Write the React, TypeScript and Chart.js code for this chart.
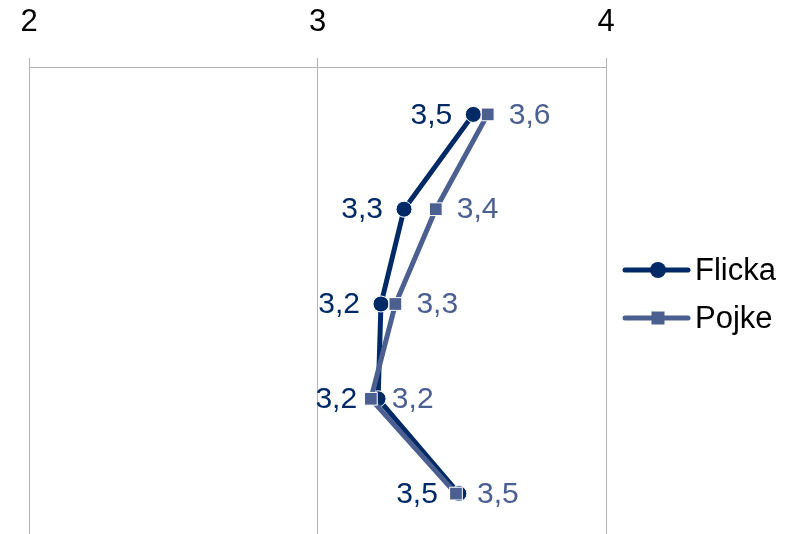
import React, { useEffect, useRef } from "react";
import { Chart, registerables } from "chart.js";

Chart.register(...registerables);

const categories = ["1", "2", "3", "4", "5"];
const flicka = [3.54, 3.3, 3.22, 3.21, 3.49];
const pojke = [3.59, 3.41, 3.27, 3.185, 3.48];
const seriesNames = ["Flicka", "Pojke"];
const colors = ["#002a66", "#4b5f91"];
const FONT = "'Liberation Sans', Arial, sans-serif";

const fmt = (v: number) => v.toFixed(1).replace(".", ",");

const labelPlugin = {
  id: "valueLabels",
  afterDatasetsDraw(chart: any) {
    const ctx = chart.ctx;
    ctx.save();
    ctx.font = `30px ${FONT}`;
    ctx.textBaseline = "middle";
    chart.data.datasets.forEach((ds: any, i: number) => {
      const meta = chart.getDatasetMeta(i);
      meta.data.forEach((pt: any, j: number) => {
        ctx.fillStyle = colors[i];
        if (i === 0) {
          ctx.textAlign = "right";
          ctx.fillText(fmt(ds.data[j]), pt.x - 21, pt.y + 1);
        } else {
          ctx.textAlign = "left";
          ctx.fillText(fmt(ds.data[j]), pt.x + 21, pt.y + 1);
        }
      });
    });
    ctx.restore();
  },
};

const legendPlugin = {
  id: "customLegend",
  afterDraw(chart: any) {
    const ctx = chart.ctx;
    const x0 = chart.chartArea.right + 19;
    const rows = [270, 318];
    ctx.save();
    seriesNames.forEach((name, i) => {
      const y = rows[i];
      ctx.strokeStyle = colors[i];
      ctx.lineWidth = 5;
      ctx.lineCap = "round";
      ctx.beginPath();
      ctx.moveTo(x0, y);
      ctx.lineTo(x0 + 63, y);
      ctx.stroke();
      ctx.fillStyle = colors[i];
      const cx = x0 + 33;
      if (i === 0) {
        ctx.beginPath();
        ctx.arc(cx, y, 8, 0, Math.PI * 2);
        ctx.fill();
      } else {
        ctx.fillRect(cx - 6.5, y - 6.5, 13, 13);
      }
      ctx.fillStyle = "#000";
      ctx.font = `31px ${FONT}`;
      ctx.textAlign = "left";
      ctx.textBaseline = "middle";
      ctx.fillText(name, x0 + 70, y + 1);
    });
    ctx.restore();
  },
};

export default function App() {
  const ref = useRef<HTMLCanvasElement>(null);
  useEffect(() => {
    if (!ref.current) return;
    const chart = new Chart(ref.current, {
      type: "line",
      data: {
        labels: categories,
        datasets: [
          {
            label: seriesNames[0],
            data: flicka,
            borderColor: colors[0],
            backgroundColor: colors[0],
            borderWidth: 5,
            pointStyle: "circle",
            pointRadius: 8,
            pointBackgroundColor: colors[0],
            pointBorderColor: "#ffffff",
            pointBorderWidth: 1,
            order: 2,
          },
          {
            label: seriesNames[1],
            data: pojke,
            borderColor: colors[1],
            backgroundColor: colors[1],
            borderWidth: 5,
            pointStyle: "rect",
            pointRadius: 9,
            pointBackgroundColor: colors[1],
            pointBorderColor: "#ffffff",
            pointBorderWidth: 1,
            order: 1,
          },
        ],
      },
      options: {
        indexAxis: "y",
        animation: false,
        responsive: false,
        layout: { padding: { left: 29, right: 183, top: 0, bottom: 3 } },
        plugins: { legend: { display: false }, tooltip: { enabled: false } },
        scales: {
          x: {
            type: "linear",
            position: "top",
            min: 2,
            max: 4,
            ticks: {
              stepSize: 1,
              color: "#000",
              padding: 17,
              font: { size: 31, family: FONT },
            },
            grid: { color: "#b3b3b3", tickLength: 9, lineWidth: 1 },
            border: { color: "#b3b3b3", width: 1 },
            afterFit: (s: any) => {
              s.height = 67;
            },
          },
          y: {
            type: "category",
            display: false,
            offset: true,
          },
        },
      } as any,
      plugins: [labelPlugin, legendPlugin],
    });
    return () => chart.destroy();
  }, []);
  return (
    <div style={{ position: "fixed", left: 0, top: 0, width: 789, height: 551 }}>
      <canvas ref={ref} width={789} height={551} style={{ display: "block" }} />
    </div>
  );
}
